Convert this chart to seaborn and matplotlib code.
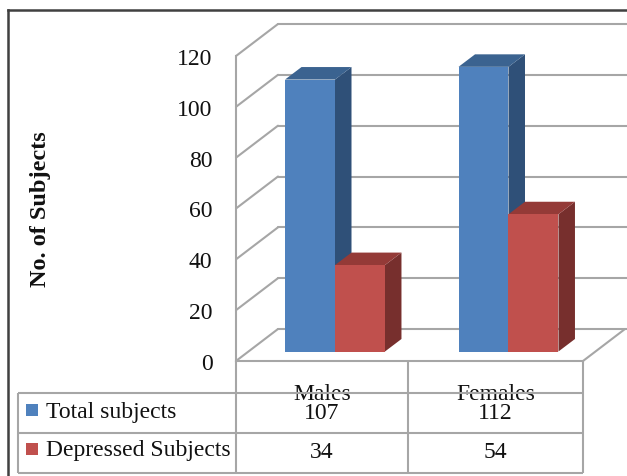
import matplotlib
matplotlib.use("Agg")
import matplotlib.pyplot as plt
from matplotlib.lines import Line2D
from matplotlib.patches import Polygon, Rectangle
from matplotlib.transforms import offset_copy
import pandas as pd
import seaborn as sns

categories = ["Males", "Females"]
series_names = ["Total subjects", "Depressed Subjects"]
total_subjects = [107, 112]
depressed_subjects = [34, 54]
y_ticks = [0, 20, 40, 60, 80, 100, 120]
y_label = "No. of Subjects"

FRONT = {"Total subjects": "#4F81BD", "Depressed Subjects": "#C0504D"}
TOP = {"Total subjects": "#3B6390", "Depressed Subjects": "#943A37"}
SIDE = {"Total subjects": "#2F5078", "Depressed Subjects": "#772F2D"}
GRID = "#A6A6A6"
TEXT = "#111111"
FONT_SIZE = 17

W, H = 627, 477
sns.set_theme(style="white")
plt.rcParams["font.family"] = ["Liberation Serif", "DejaVu Serif"]
fig = plt.figure(figsize=(W / 100, H / 100), dpi=100)


def axes_from_pixels(x0, x1, y_bottom, y_top):
    return fig.add_axes([x0 / W, 1 - y_bottom / H, (x1 - x0) / W, (y_bottom - y_top) / H])


# Chart border: only the top and left edges are inside the canvas
frame = dict(transform=fig.transFigure, color="#404040", lw=1.8, solid_capstyle="projecting")
fig.add_artist(Line2D([8 / W, 8 / W], [-0.01, 1 - 11 / H], **frame))
fig.add_artist(Line2D([8 / W, 1.01], [1 - 11 / H, 1 - 11 / H], **frame))

# Front plane of the box: value axis, tick labels and wall lines
wall = axes_from_pixels(236, 583, 362, 57)
wall.set_xlim(0, 2)
wall.set_ylim(0, 120)
wall.set_xticks([])
wall.set_yticks(y_ticks)
wall.set_yticklabels([str(v) for v in y_ticks], fontsize=FONT_SIZE, color=TEXT)
wall.tick_params(axis="y", length=0, pad=17)
wall.set_ylabel(y_label, fontsize=17.5, fontweight="bold", color=TEXT)
wall.yaxis.set_label_coords(-0.533, 0.5)
wall.patch.set_visible(False)
for name, spine in wall.spines.items():
    spine.set_visible(name in ("left", "bottom"))
    spine.set_color(GRID)
    spine.set_linewidth(1.5)

# Back wall and floor, shifted into depth from the front plane
DX, DY = 42, 32
back = offset_copy(wall.transData, fig=fig, x=DX, y=DY, units="dots")
for v in y_ticks:
    wall.plot([0, 2.2], [v, v], transform=back, color=GRID, lw=1.5, clip_on=False, zorder=1)
    x0, y0 = wall.transData.transform((0, v))
    wall.annotate("", xy=(x0 + DX, y0 + DY), xytext=(x0, y0), xycoords="figure pixels",
                  textcoords="figure pixels", annotation_clip=False,
                  arrowprops=dict(arrowstyle="-", color=GRID, lw=1.5, shrinkA=0, shrinkB=0))
x0, y0 = wall.transData.transform((2, 0))
wall.annotate("", xy=(x0 + DX, y0 + DY), xytext=(x0, y0), xycoords="figure pixels",
              textcoords="figure pixels", annotation_clip=False,
              arrowprops=dict(arrowstyle="-", color=GRID, lw=1.5, shrinkA=0, shrinkB=0))

# Bars stand a little behind the front plane
bars_ax = axes_from_pixels(248.25, 595.25, 352.5, 47.5)
bars_ax.patch.set_visible(False)
df = pd.DataFrame({
    "group": categories * 2,
    "series": [series_names[0]] * 2 + [series_names[1]] * 2,
    "value": total_subjects + depressed_subjects,
})
sns.barplot(data=df, x="group", y="value", hue="series", hue_order=series_names,
            palette=FRONT, width=0.576, gap=0, saturation=1, legend=False, ax=bars_ax,
            linewidth=0, errorbar=None)
bars_ax.set_xlim(-0.5, 1.5)
bars_ax.set_ylim(0, 120)
bars_ax.axis("off")

# Extruded top and side faces of every bar
BAR_DX, BAR_DY = 16.5, 12.5
for container, name in zip(bars_ax.containers, series_names):
    layer = 0.02 * series_names.index(name)
    for bar in container:
        (xa, ya), (xb, yb) = bars_ax.transData.transform(bar.get_bbox().get_points())
        side = [(xb, ya), (xb + BAR_DX, ya + BAR_DY), (xb + BAR_DX, yb + BAR_DY), (xb, yb)]
        top = [(xa, yb), (xa + BAR_DX, yb + BAR_DY), (xb + BAR_DX, yb + BAR_DY), (xb, yb)]
        for points, colors in ((side, SIDE), (top, TOP)):
            bars_ax.add_patch(Polygon(points, transform=None, fc=colors[name], ec="none",
                                      zorder=bar.get_zorder() - 0.1 + layer))
for bar in bars_ax.containers[1]:
    bar.set_zorder(bar.get_zorder() + 0.05)

# Data table underneath the chart
table_ax = fig.add_axes([0, 0, 1, 1])
table_ax.set_xlim(0, W)
table_ax.set_ylim(H, 0)
table_ax.axis("off")
table_ax.patch.set_visible(False)
col_edges = [18, 236, 408, 583]
row_edges = [362, 393.5, 433.5, 474]
rule = dict(color=GRID, lw=1.5, solid_capstyle="butt", zorder=5)
for y in row_edges[1:]:
    table_ax.plot([col_edges[0], col_edges[-1]], [y, y], **rule)
for x in col_edges[1:]:
    table_ax.plot([x, x], [row_edges[0], row_edges[-1]], **rule)
table_ax.plot([col_edges[0]] * 2, [row_edges[1], row_edges[-1]], **rule)

centers = [(col_edges[1] + col_edges[2]) / 2, (col_edges[2] + col_edges[3]) / 2]
text_kw = dict(fontsize=FONT_SIZE, color=TEXT, ha="center", va="center", zorder=3)
for cx, cat, total, dep in zip(centers, categories, total_subjects, depressed_subjects):
    table_ax.text(cx, 395, cat, **text_kw)
    table_ax.text(cx, 414, str(total), **text_kw)
    table_ax.text(cx, 453, str(dep), **text_kw)

for name, y in zip(series_names, [411, 449.5]):
    table_ax.add_patch(Rectangle((26, y - 6), 12, 12, fc=FRONT[name], ec="none"))
    table_ax.text(46, y + 1.5, name, fontsize=FONT_SIZE, color=TEXT, ha="left", va="center", zorder=3)

fig.savefig("out.png", dpi=100, facecolor="white")
